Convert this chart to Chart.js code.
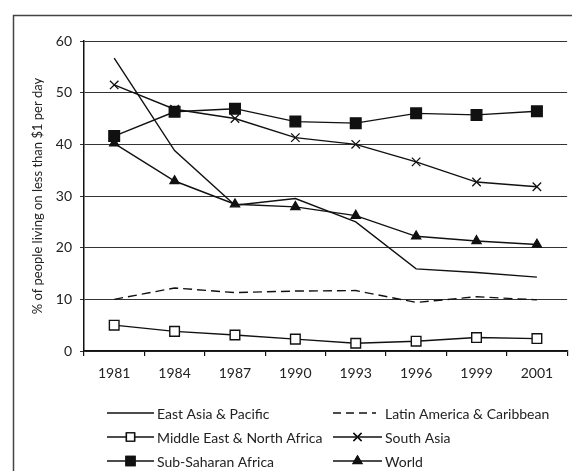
<!DOCTYPE html>
<html>
<head>
<meta charset="utf-8">
<script src="https://cdn.jsdelivr.net/npm/chart.js@4.4.0/dist/chart.umd.min.js"></script>
<style>
html,body{margin:0;padding:0;background:#fff;overflow:hidden;}
#wrap{position:relative;width:572px;height:471px;overflow:hidden;}
canvas{position:absolute;left:0;top:0;}
</style>
</head>
<body>
<div id="wrap"><canvas id="c" width="576" height="471"></canvas></div>
<script>
const years = ['1981','1984','1987','1990','1993','1996','1999','2001'];
const yTicks = [0,10,20,30,40,50,60];
const yTitle = '% of people living on less than $1 per day';
const labels = ['East Asia & Pacific','Latin America & Caribbean','Middle East & North Africa','South Asia','Sub-Saharan Africa','World'];
const eastAsia = [56.7,38.8,28.2,29.5,25.0,15.9,15.2,14.3];
const latinAmerica = [10.0,12.2,11.3,11.6,11.7,9.4,10.5,9.9];
const middleEast = [5.0,3.8,3.1,2.3,1.5,1.9,2.6,2.4];
const southAsia = [51.5,46.8,45.0,41.3,40.0,36.6,32.7,31.8];
const subSaharan = [41.6,46.3,46.9,44.4,44.1,46.0,45.7,46.4];
const world = [40.2,32.9,28.4,27.9,26.2,22.2,21.3,20.6];

const ink = '#111';
const FONT = 'Lato, "Open Sans", sans-serif';

function ds(label, data, extra){
  return Object.assign({label, data, borderColor: ink, backgroundColor: ink, borderWidth: 1.4,
    pointRadius: 0, tension: 0, fill: false}, extra);
}

const datasets = [
  ds(labels[0], eastAsia, {}),
  ds(labels[1], latinAmerica, {borderDash:[9,5]}),
  ds(labels[2], middleEast, {pointStyle:'rect', pointRadius:6.8, backgroundColor:'#fff', pointBorderWidth:1.4}),
  ds(labels[3], southAsia, {pointStyle:'crossRot', pointRadius:6, pointBorderWidth:1.3}),
  ds(labels[4], subSaharan, {pointStyle:'rect', pointRadius:7.5}),
  ds(labels[5], world, {pointStyle:'triangle', pointRadius:5.2})
];

const framePlugin = {
  id:'frame',
  beforeDraw(chart){
    const c = chart.ctx;
    c.save();
    c.fillStyle='#fff';
    c.fillRect(0,0,chart.width,chart.height);
    c.strokeStyle='#444';
    c.lineWidth=1.5;
    c.strokeRect(13.5,15.5,700,700);
    c.restore();
  }
};

const legendPlugin = {
  id:'customLegend',
  afterDraw(chart){
    const c = chart.ctx;
    const area = chart.chartArea;
    const cols = [{x0:107,x1:154,tx:157},{x0:333,x1:382,tx:385}];
    const rowY = [area.bottom+62, area.bottom+86, area.bottom+110];
    c.save();
    chart.data.datasets.forEach((d,i)=>{
      const col = cols[i%2];
      const y = rowY[Math.floor(i/2)];
      c.strokeStyle = d.borderColor;
      c.lineWidth = d.borderWidth;
      c.setLineDash(d.borderDash ? [8,5] : []);
      c.beginPath();
      c.moveTo(col.x0, y); c.lineTo(d.borderDash ? col.x1-6 : col.x1, y);
      c.stroke();
      c.setLineDash([]);
      if (d.pointStyle){
        Chart.helpers.drawPoint(c, {pointStyle:d.pointStyle, radius: d.pointStyle==='rect'? d.pointRadius*0.85 : d.pointRadius*0.95, rotation:0, borderWidth: d.pointBorderWidth||1.3},
          (col.x0+col.x1)/2, y);
        c.fillStyle = d.backgroundColor;
        c.strokeStyle = d.borderColor;
        c.lineWidth = d.pointBorderWidth||1.3;
        c.fill(); c.stroke();
      }
      c.fillStyle = '#222';
      c.font = '14px ' + FONT;
      c.textBaseline = 'middle';
      c.textAlign = 'left';
      c.fillText(d.label, col.tx, y+1);
    });
    c.restore();
  }
};

new Chart(document.getElementById('c'), {
  type:'line',
  data:{labels: years, datasets},
  options:{
    responsive:false,
    animation:false,
    layout:{padding:{top:41, right:3, left:0, bottom:0}},
    plugins:{legend:{display:false}, tooltip:{enabled:false}},
    scales:{
      x:{
        offset:true,
        grid:{offset:true, drawOnChartArea:false, drawTicks:true, tickLength:5, color:ink, lineWidth:1.2},
        border:{display:true, color:ink, width:1.5},
        ticks:{color:'#222', font:{family:FONT, size:14}, padding:9, maxRotation:0},
        afterFit(s){ s.height = 120; }
      },
      y:{
        min:0, max:60,
        afterBuildTicks(s){ s.ticks = yTicks.map(v=>({value:v})); },
        grid:{color:'#333', lineWidth:1, tickLength:4, drawTicks:true},
        border:{display:true, color:ink, width:1.5},
        ticks:{color:'#222', font:{family:FONT, size:14}, padding:8},
        title:{display:true, text:yTitle, color:'#222', font:{family:FONT, size:13}, padding:{top:30,bottom:0}},
        afterFit(s){ s.width = 84; }
      }
    }
  },
  plugins:[framePlugin, legendPlugin]
});
</script>
</body>
</html>
